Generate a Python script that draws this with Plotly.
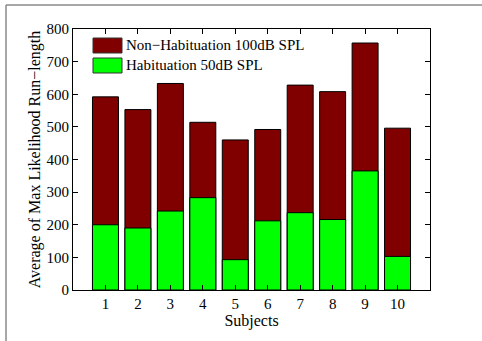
import plotly.graph_objects as go

subjects = ["1", "2", "3", "4", "5", "6", "7", "8", "9", "10"]
x_pos = [1, 2, 3, 4, 5, 6, 7, 8, 9, 10]
non_habituation = [592, 553, 633, 514, 460, 492, 628, 608, 757, 496]
habituation = [200, 190, 242, 283, 93, 212, 237, 216, 365, 103]
y_ticks = [0, 100, 200, 300, 400, 500, 600, 700, 800]
series_names = ["Non\u2212Habituation 100dB SPL", "Habituation 50dB SPL"]
series_colors = ["#800000", "#00FF00"]

FONT = "Liberation Serif"

fig = go.Figure()
fig.add_trace(go.Bar(x=x_pos, y=non_habituation, name=series_names[0],
                     marker=dict(color=series_colors[0], line=dict(color="black", width=1)),
                     width=0.8, showlegend=False))
fig.add_trace(go.Bar(x=x_pos, y=habituation, name=series_names[1],
                     marker=dict(color=series_colors[1], line=dict(color="black", width=1)),
                     width=0.8, showlegend=False))

W, H = 482, 341
L, R, T, B = 73, 52, 29, 51
pw, ph = W - L - R, H - T - B

def px_x(p):
    return (p - L) / pw

def px_y(p):
    return 1 - (p - T) / ph

fig.update_layout(
    width=W, height=H,
    margin=dict(l=L, r=R, t=T, b=B),
    barmode="overlay",
    plot_bgcolor="white", paper_bgcolor="white",
    font=dict(family=FONT, size=15, color="black"),
    showlegend=False,
    xaxis=dict(range=[0, 11], tickvals=x_pos, ticktext=subjects,
               ticks="inside", ticklen=5, tickcolor="black",
               showline=True, linecolor="black", linewidth=1, mirror="ticks",
               showgrid=False, zeroline=False,
               title=dict(text="Subjects", font=dict(family=FONT, size=16), standoff=0),
               tickfont=dict(family=FONT, size=15)),
    yaxis=dict(range=[0, 800], tickvals=y_ticks,
               ticks="inside", ticklen=5, tickcolor="black",
               showline=True, linecolor="black", linewidth=1, mirror="ticks",
               showgrid=False, zeroline=False,
               title=dict(text="Average of Max Likelihood Run\u2212length",
                          font=dict(family=FONT, size=16), standoff=1),
               tickfont=dict(family=FONT, size=15)),
)

# manual legend (MATLAB-style wide swatches)
for i, (name, col) in enumerate(zip(series_names, series_colors)):
    top = 38 + 20 * i
    fig.add_shape(type="rect", xref="paper", yref="paper",
                  x0=px_x(93), x1=px_x(122), y0=px_y(top + 15), y1=px_y(top),
                  fillcolor=col, line=dict(color="#333333", width=1))
    fig.add_annotation(xref="paper", yref="paper", x=px_x(124), y=px_y(top + 7.5),
                       xanchor="left", yanchor="middle", text=name, showarrow=False,
                       font=dict(family=FONT, size=15, color="black"))

# figure frame (gray border partially visible at left and top)
fx = px_x(6)
fy = px_y(5)
fig.add_shape(type="line", xref="paper", yref="paper", x0=fx, x1=fx, y0=fy, y1=px_y(H + 5),
              line=dict(color="#8a8a8a", width=1.5))
fig.add_shape(type="line", xref="paper", yref="paper", x0=fx, x1=px_x(W + 5), y0=fy, y1=fy,
              line=dict(color="#8a8a8a", width=1.5))

fig.write_html("out.html")
